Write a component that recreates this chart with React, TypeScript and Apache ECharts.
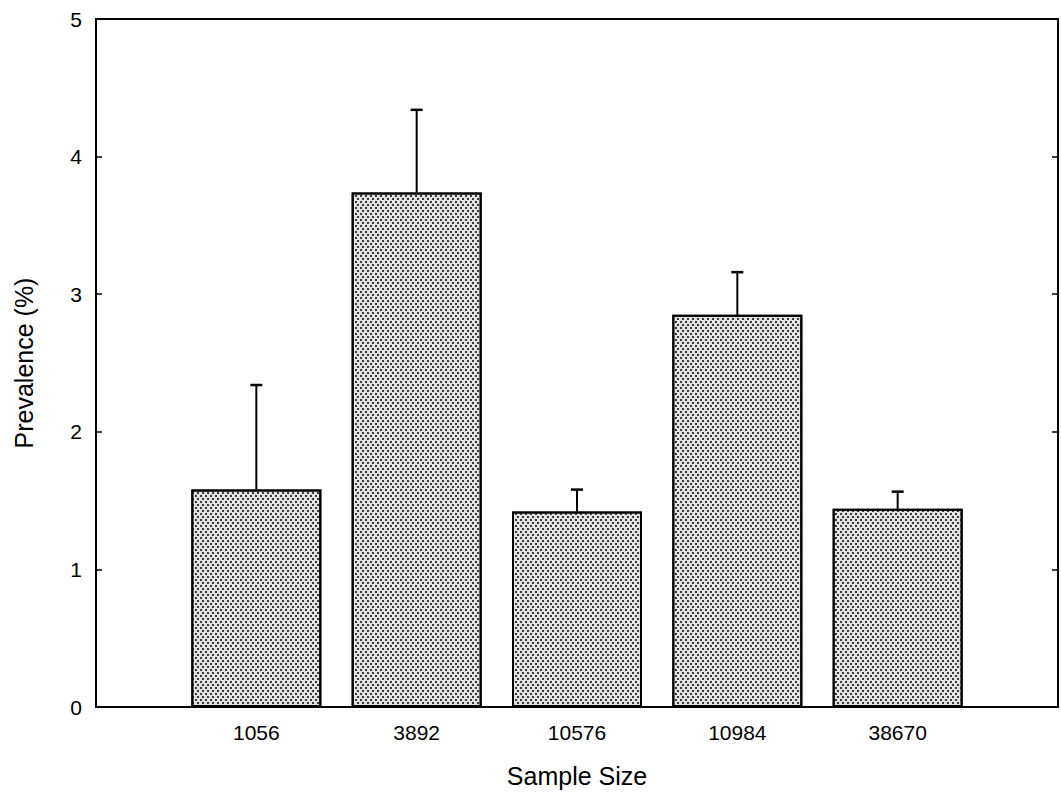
import React, { useEffect, useRef } from "react";
import * as echarts from "echarts";

const categories = ["1056", "3892", "10576", "10984", "38670"];
const prevalence = [1.58, 3.74, 1.42, 2.85, 1.44];
const upperError = [2.34, 4.34, 1.58, 3.16, 1.565];
const yTicks = [0, 1, 2, 3, 4, 5];

const FONT = "'Liberation Sans', Arial, Helvetica, sans-serif";

export default function App() {
  const ref = useRef<HTMLDivElement>(null);
  useEffect(() => {
    if (!ref.current) return;
    const chart = echarts.init(ref.current, undefined, { renderer: "svg" });
    const axisCats = ["", ...categories, ""];
    const barData: any[] = ["-", ...prevalence, "-"];
    const errData = categories.map((_, i) => [i + 1, prevalence[i], upperError[i]]);
    chart.setOption({
      animation: false,
      backgroundColor: "#ffffff",
      grid: {
        left: 96,
        right: 3,
        top: 19,
        bottom: 86,
        show: true,
        borderColor: "#000",
        borderWidth: 2,
        backgroundColor: "transparent",
      },
      xAxis: {
        type: "category",
        data: axisCats,
        boundaryGap: false,
        name: "Sample Size",
        nameLocation: "middle",
        nameGap: 56,
        nameTextStyle: { fontSize: 25, color: "#000", fontFamily: FONT },
        axisLine: { show: true, lineStyle: { color: "#000", width: 2 } },
        axisTick: { show: false },
        axisLabel: { fontSize: 21, color: "#000", fontFamily: FONT, margin: 15 },
        splitLine: { show: false },
      },
      yAxis: [
        {
          type: "value",
          min: yTicks[0],
          max: yTicks[yTicks.length - 1],
          interval: 1,
          name: "Prevalence (%)",
          nameLocation: "middle",
          nameGap: 60,
          nameTextStyle: { fontSize: 25, color: "#000", fontFamily: FONT },
          axisLine: { show: true, lineStyle: { color: "#000", width: 2 } },
          axisTick: { show: true, inside: true, length: 6, lineStyle: { color: "#000", width: 1.5 } },
          axisLabel: { fontSize: 21, color: "#000", fontFamily: FONT, margin: 14 },
          splitLine: { show: false },
        },
        {
          type: "value",
          position: "right",
          min: yTicks[0],
          max: yTicks[yTicks.length - 1],
          interval: 1,
          axisLine: { show: true, lineStyle: { color: "#000", width: 2 } },
          axisTick: { show: true, inside: true, length: 6, lineStyle: { color: "#000", width: 1.5 } },
          axisLabel: { show: false },
          splitLine: { show: false },
        },
      ],
      series: [
        {
          type: "bar",
          data: barData,
          barWidth: 130,
          itemStyle: {
            color: "#e2e2e2",
            borderColor: "#000",
            borderWidth: 2,
            decal: {
              symbol: "rect",
              symbolSize: 1,
              color: "#3a3a3a",
              dashArrayX: [[1.5, 2.5], [0, 2, 1.5, 0.5]],
              dashArrayY: [1.5, 0.5],
              rotation: 0,
            },
          },
          z: 2,
        },
        {
          type: "custom",
          data: errData,
          z: 3,
          renderItem: (params: any, api: any) => {
            const x = api.value(0);
            const lo = api.coord([x, api.value(1)]);
            const hi = api.coord([x, api.value(2)]);
            return {
              type: "group",
              children: [
                {
                  type: "line",
                  shape: { x1: lo[0], y1: lo[1], x2: hi[0], y2: hi[1] },
                  style: { stroke: "#000", lineWidth: 2 },
                },
                {
                  type: "line",
                  shape: { x1: hi[0] - 6, y1: hi[1], x2: hi[0] + 6, y2: hi[1] },
                  style: { stroke: "#000", lineWidth: 2.5 },
                },
              ],
            };
          },
        },
      ],
    });
    return () => chart.dispose();
  }, []);
  return (
    <div
      ref={ref}
      style={{ position: "absolute", left: 0, top: 0, width: 1061, height: 793 }}
    />
  );
}
